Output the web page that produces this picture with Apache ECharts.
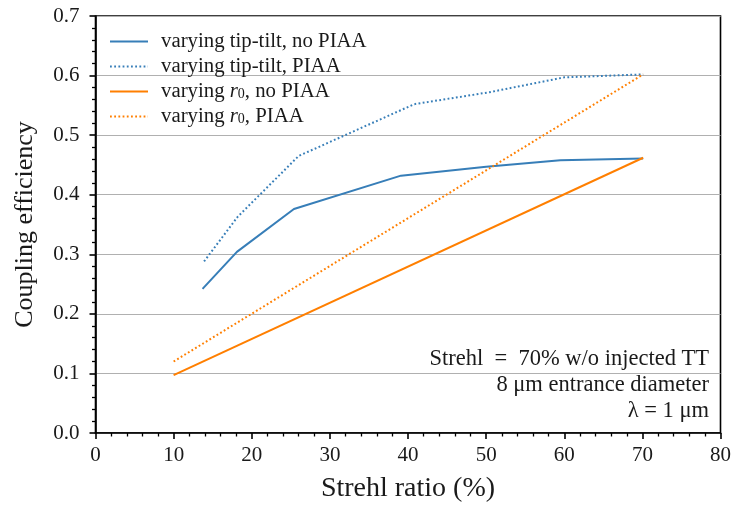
<!DOCTYPE html>
<html><head><meta charset="utf-8">
<script src="https://cdn.jsdelivr.net/npm/echarts@6/dist/echarts.min.js"></script>
<style>html,body{margin:0;padding:0;background:#fff}#c{width:734px;height:508px}</style>
</head><body><div id="c"></div>
<script>
// Data
const ttX          = [13.7, 18.1, 25.4, 39.1, 50.0, 59.5, 70.1];
const ttNoPIAA     = [0.242, 0.304, 0.376, 0.432, 0.447, 0.458, 0.461];
const ttXp         = [13.9, 18.2, 26.0, 40.8, 50.4, 60.0, 70.1];
const ttPIAA       = [0.288, 0.363, 0.465, 0.552, 0.572, 0.597, 0.602];
const r0X          = [10.0, 70.1];
const r0NoPIAA     = [0.097, 0.462];
const r0PIAA       = [0.120, 0.602];
const seriesNames  = ['tt_nopiaa', 'tt_piaa', 'r0_nopiaa', 'r0_piaa'];
const legendLabels = {
  tt_nopiaa: '{n|varying tip-tilt, no PIAA}',
  tt_piaa:   '{n|varying tip-tilt, PIAA}',
  r0_nopiaa: '{n|varying }{i|r}{s|0}{n|, no PIAA}',
  r0_piaa:   '{n|varying }{i|r}{s|0}{n|, PIAA}'
};
const noteLines = ['Strehl\u2002=\u200270% w/o injected TT', '8 μm entrance diameter', 'λ = 1 μm'];
const xLabel = 'Strehl ratio (%)';
const yLabel = 'Coupling efficiency';

const BLUE = '#377eb8', ORANGE = '#ff7f00';
const FONT = 'Liberation Serif';
const TXT = '#1a1a1a';
const zip = (xs, ys) => xs.map((x, i) => [x, ys[i]]);
const dotted = [1.8, 2.4];

const chart = echarts.init(document.getElementById('c'), null, {renderer: 'canvas'});
const gridL = 95.5, gridR = 11, gridT = 16, gridB = 71.5;

const axisCommon = {
  axisLine: {show: true, onZero: false, lineStyle: {color: '#000', width: 1.6}},
  axisTick: {show: true, inside: false, length: 6, lineStyle: {color: '#000', width: 1.6}},
  minorTick: {show: true, splitNumber: 5, length: 3.5, lineStyle: {color: '#000', width: 1.3}},
  axisLabel: {color: TXT, fontFamily: FONT, fontSize: 21},
  nameTextStyle: {color: TXT, fontFamily: FONT, fontSize: 27}
};

chart.setOption({
  animation: false,
  backgroundColor: '#fff',
  grid: {left: gridL, right: gridR, top: gridT, bottom: gridB, show: true, borderColor: '#000', borderWidth: 1.6, containLabel: false},
  xAxis: Object.assign({}, axisCommon, {
    type: 'value', min: 0, max: 80, interval: 10,
    splitLine: {show: false},
    axisLabel: Object.assign({}, axisCommon.axisLabel, {margin: 12}),
    name: xLabel, nameLocation: 'middle', nameGap: 42,
    nameTextStyle: Object.assign({}, axisCommon.nameTextStyle, {fontSize: 28})
  }),
  yAxis: Object.assign({}, axisCommon, {
    type: 'value', min: 0, max: 0.7, interval: 0.1,
    splitLine: {show: true, lineStyle: {color: '#b0b0b0', width: 1.2}},
    axisLabel: Object.assign({}, axisCommon.axisLabel, {margin: 16, formatter: v => v.toFixed(1)}),
    name: yLabel, nameLocation: 'middle', nameGap: 57,
    nameTextStyle: Object.assign({}, axisCommon.nameTextStyle, {fontSize: 26})
  }),
  legend: {
    orient: 'vertical', left: 104, top: 26, itemWidth: 38, itemHeight: 12, itemGap: 4,
    data: seriesNames,
    formatter: n => legendLabels[n],
    itemStyle: {opacity: 0},
    textStyle: {
      padding: [0, 0, 0, 8],
      rich: {
        n: {fontFamily: FONT, fontSize: 20.8, color: TXT, lineHeight: 20},
        i: {fontFamily: FONT, fontSize: 20.8, fontStyle: 'italic', color: TXT, lineHeight: 20},
        s: {fontFamily: FONT, fontSize: 14, color: TXT, lineHeight: 20, verticalAlign: 'bottom', padding: [6, 0, 0, 0]}
      }
    }
  },
  graphic: noteLines.map((t, i) => ({
    type: 'text', right: 25, top: 348 + i * 26,
    style: {text: t, fontFamily: FONT, fontSize: 22.5, fill: TXT, textAlign: 'right'}
  })),
  series: [
    {name: 'tt_nopiaa', type: 'line', data: zip(ttX, ttNoPIAA), showSymbol: false, symbol: 'none', lineStyle: {color: BLUE, width: 2}, itemStyle: {color: BLUE}},
    {name: 'tt_piaa', type: 'line', data: zip(ttXp, ttPIAA), showSymbol: false, symbol: 'none', lineStyle: {color: BLUE, width: 2, type: dotted}, itemStyle: {color: BLUE}},
    {name: 'r0_nopiaa', type: 'line', data: zip(r0X, r0NoPIAA), showSymbol: false, symbol: 'none', lineStyle: {color: ORANGE, width: 2}, itemStyle: {color: ORANGE}},
    {name: 'r0_piaa', type: 'line', data: zip(r0X, r0PIAA), showSymbol: false, symbol: 'none', lineStyle: {color: ORANGE, width: 2, type: dotted}, itemStyle: {color: ORANGE}}
  ]
});
</script></body></html>
